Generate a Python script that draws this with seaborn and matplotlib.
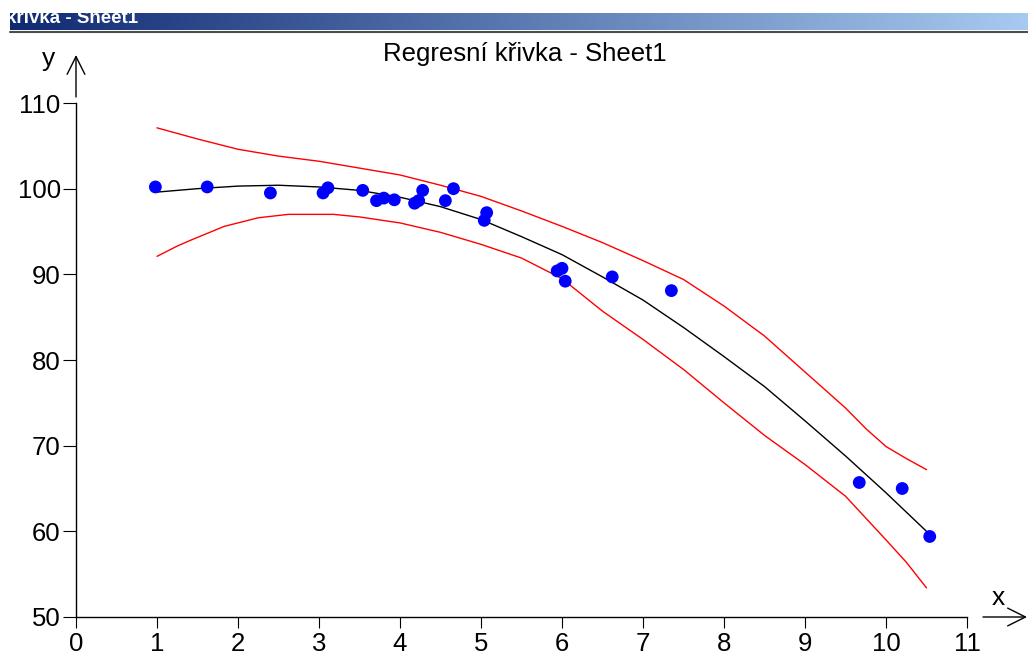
import numpy as np
import pandas as pd
import matplotlib
matplotlib.use("Agg")
import matplotlib.pyplot as plt
from matplotlib.colors import LinearSegmentedColormap
import seaborn as sns

# ---- data ----
x_obs = [0.98, 1.62, 2.40, 3.05, 3.11, 3.54, 3.71, 3.80, 3.93, 4.18, 4.23, 4.28,
         4.56, 4.66, 5.04, 5.07, 5.94, 6.00, 6.04, 6.62, 7.35, 9.67, 10.20, 10.54]
y_obs = [100.2, 100.2, 99.5, 99.5, 100.1, 99.8, 98.6, 98.9, 98.7, 98.3, 98.6, 99.8,
         98.6, 100.0, 96.3, 97.2, 90.4, 90.7, 89.2, 89.7, 88.1, 65.7, 65.0, 59.4]

fit_x = [1.0, 1.5, 2.0, 2.5, 3.0, 3.5, 4.0, 4.5, 5.0, 5.5,
         6.0, 6.5, 7.0, 7.5, 8.0, 8.5, 9.0, 9.5, 10.0, 10.5]
fit_y = [99.6, 100.0, 100.3, 100.4, 100.2, 99.8, 99.0, 97.9, 96.4, 94.4,
         92.3, 89.7, 87.0, 83.8, 80.4, 76.9, 72.9, 68.8, 64.5, 60.0]

upper_x = [1.0, 1.5, 2.0, 2.5, 3.0, 3.5, 4.0, 4.5, 5.0, 5.5,
           6.0, 6.5, 7.0, 7.5, 8.0, 8.5, 9.0, 9.5, 9.75, 10.0, 10.25, 10.5]
upper_y = [107.1, 105.8, 104.6, 103.8, 103.2, 102.4, 101.6, 100.4, 99.1, 97.4,
           95.6, 93.7, 91.6, 89.4, 86.3, 82.8, 78.6, 74.4, 72.0, 69.9, 68.5, 67.2]

lower_x = [1.0, 1.25, 1.42, 1.83, 2.25, 2.62, 3.18, 3.5, 4.0, 4.5, 5.0, 5.5,
           6.0, 6.5, 7.0, 7.5, 8.0, 8.5, 9.0, 9.5, 10.0, 10.25, 10.5]
lower_y = [92.1, 93.3, 94.0, 95.6, 96.6, 97.0, 97.0, 96.7, 96.0, 94.9, 93.5, 91.9,
           89.5, 85.7, 82.4, 78.9, 75.0, 71.2, 67.8, 64.1, 59.0, 56.4, 53.4]

x_ticks = list(range(0, 12))
y_ticks = [50, 60, 70, 80, 90, 100, 110]

title = "Regresní křivka - Sheet1"
caption = "křivka - Sheet1"

# ---- style ----
sns.set_theme(style="white")
plt.rcParams['font.family'] = ['Liberation Sans', 'DejaVu Sans']
plt.rcParams['text.color'] = 'black'
plt.rcParams['xtick.color'] = 'black'
plt.rcParams['ytick.color'] = 'black'

W, H = 1028, 657
fig = plt.figure(figsize=(W / 100, H / 100), dpi=100)
fig.patch.set_facecolor('white')

# window caption bar
axb = fig.add_axes([10 / W, (H - 30) / H, (W - 10) / W, 17 / H])
grad = np.linspace(0, 1, 512).reshape(1, -1)
cmap = LinearSegmentedColormap.from_list('cap', ['#102a72', '#a6caf0'])
axb.imshow(grad, aspect='auto', cmap=cmap, extent=[0, 1, 0, 1])
axb.set_xlim(0, 1); axb.set_ylim(0, 1)
axb.axis('off')
axb.text(-4 / (W - 10), 7 / 17, caption, color='white', fontsize=13.5, fontweight='bold',
         va='baseline', ha='left', clip_on=True, transform=axb.transAxes)
fig.add_artist(plt.Line2D([10 / W, 1], [(H - 31.5) / H] * 2, color='#4d4d4d', lw=1.5))

# main axes
ax = fig.add_axes([76 / W, (H - 617) / H, 891 / W, 514 / H])
sns.lineplot(x=upper_x, y=upper_y, color='#ff0000', lw=1.0, ax=ax, estimator=None)
sns.lineplot(x=lower_x, y=lower_y, color='#ff0000', lw=1.0, ax=ax, estimator=None)
sns.lineplot(x=fit_x, y=fit_y, color='#000000', lw=1.0, ax=ax, estimator=None)
sns.scatterplot(x=x_obs, y=y_obs, color='#0000ff', s=85, edgecolor='none', ax=ax, zorder=5)

ax.set_xlim(0, 11)
ax.set_ylim(50, 110)
ax.set_xticks(x_ticks)
ax.set_yticks(y_ticks)
ax.set_xlabel('')
ax.set_ylabel('')
for s in ['top', 'right']:
    ax.spines[s].set_visible(False)
for s in ['left', 'bottom']:
    ax.spines[s].set_color('black')
    ax.spines[s].set_linewidth(1.0)
ax.tick_params(axis='y', direction='out', length=9.5, width=0.8, color='black',
               labelcolor='black', labelsize=18.5, pad=1.5, left=True)
ax.tick_params(axis='x', direction='out', length=8, width=0.8, color='black',
               labelcolor='black', labelsize=18.5, pad=3, bottom=True)
ax.grid(False)
ax.set_facecolor('white')

# arrows and axis names
arrow = dict(arrowstyle='->', mutation_scale=32, lw=1.0, color='black',
             shrinkA=0, shrinkB=0)
ax.annotate('', xy=(76, H - 55), xytext=(76, H - 97), xycoords='figure pixels',
            textcoords='figure pixels', arrowprops=arrow, annotation_clip=False)
ax.annotate('', xy=(1027, H - 617), xytext=(983, H - 617), xycoords='figure pixels',
            textcoords='figure pixels', arrowprops=arrow, annotation_clip=False)
fig.text(49 / W, (H - 66) / H, 'y', fontsize=19, ha='center', va='baseline')
fig.text(998 / W, (H - 605) / H, 'x', fontsize=19, ha='center', va='baseline')

fig.text(525 / W, (H - 61) / H, title, fontsize=18.5, ha='center', va='baseline')

fig.savefig('out.png', dpi=100)
